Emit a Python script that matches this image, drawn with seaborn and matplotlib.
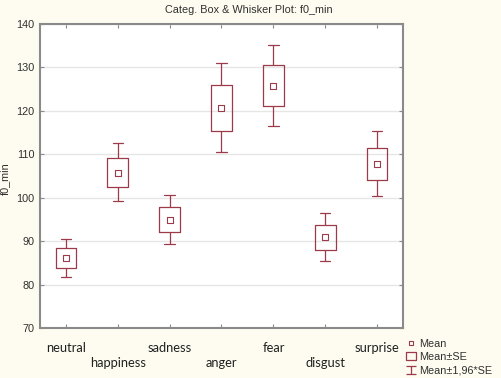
import numpy as np
import pandas as pd
import matplotlib
matplotlib.use('Agg')
import matplotlib.pyplot as plt
import seaborn as sns
from matplotlib.lines import Line2D
from matplotlib.path import Path

# values (mean, mean±SE, mean±1.96*SE)
emotions = ['neutral', 'happiness', 'sadness', 'anger', 'fear', 'disgust', 'surprise']
means = [86.1, 105.8, 94.9, 120.6, 125.8, 90.9, 107.8]
se_low = [83.8, 102.5, 92.0, 115.4, 121.2, 88.0, 104.0]
se_high = [88.4, 109.2, 97.9, 125.9, 130.5, 93.8, 111.5]
ci_low = [81.8, 99.3, 89.3, 110.5, 116.6, 85.4, 100.5]
ci_high = [90.6, 112.5, 100.7, 131.0, 135.1, 96.5, 115.3]
y_ticks = [70, 80, 90, 100, 110, 120, 130, 140]

red = '#9c3a4a'
frame = '#8a8a8a'

# five-number table so the boxplot draws box = mean±SE and whiskers = mean±1.96*SE
rows = []
for i, e in enumerate(emotions):
    for v in (ci_low[i], se_low[i], means[i], se_high[i], ci_high[i]):
        rows.append({'emotion': e, 'f0_min': v})
df = pd.DataFrame(rows)

sns.set_style('white')
plt.rcParams['font.family'] = ['Liberation Sans', 'DejaVu Sans']

fig = plt.figure(figsize=(5.02, 3.78), dpi=100, facecolor='#fefcf0')
ax = fig.add_axes([40 / 502, 1 - 328 / 378, 363 / 502, 304 / 378])
ax.set_facecolor('white')

sns.boxplot(data=df, x='emotion', y='f0_min', order=emotions, width=0.4,
            fill=False, color=red, linewidth=0.9, whis=(0, 100),
            showfliers=False, medianprops=dict(visible=False), ax=ax)
sns.scatterplot(x=emotions, y=means, marker='s', s=14, facecolor='white',
                edgecolor=red, linewidth=0.8, zorder=5, ax=ax)

ax.set_xlim(-0.5, 6.5)
ax.set_ylim(70, 140)
ax.set_yticks(y_ticks)
ax.yaxis.grid(True, color='#e6e6e6', linewidth=1)
ax.set_axisbelow(True)
for s in ax.spines.values():
    s.set_color(frame)
    s.set_linewidth(1.5)

ax.tick_params(axis='both', direction='in', length=3, color=frame, width=0.8,
               top=True, right=True, bottom=True, left=True)
ax.tick_params(axis='y', labelsize=7.8, labelcolor='#303030', pad=4)
ax.tick_params(axis='x', labelsize=9.3, labelcolor='#202020', pad=10)
for lbl in ax.get_xticklabels():
    lbl.set_family(['Lato', 'DejaVu Sans'])
for i, t in enumerate(ax.xaxis.get_major_ticks()):
    if i % 2 == 1:
        t.set_pad(21)

ax.set_xlabel('')
ax.set_ylabel('f0_min', fontsize=7.8, color='#303030')
ax.yaxis.set_label_coords(-0.083, 0.49)
fig.suptitle('Categ. Box & Whisker Plot: f0_min', x=0.496, y=0.986,
             fontsize=7.8, color='#303030')

# legend symbols
box_path = Path([(-1, -0.9), (1, -0.9), (1, 0.9), (-1, 0.9), (-1, -0.9)],
                [Path.MOVETO, Path.LINETO, Path.LINETO, Path.LINETO, Path.CLOSEPOLY])
whisk_path = Path([(-1, 0.9), (1, 0.9), (0, 0.9), (0, -0.9), (-1, -0.9), (1, -0.9)],
                  [Path.MOVETO, Path.LINETO, Path.MOVETO, Path.LINETO,
                   Path.MOVETO, Path.LINETO])
handles = [
    Line2D([], [], linestyle='', marker='s', markersize=2.6,
           markerfacecolor='white', markeredgecolor=red, markeredgewidth=0.8),
    Line2D([], [], linestyle='', marker=box_path, markersize=6.5,
           markerfacecolor='none', markeredgecolor=red, markeredgewidth=0.9),
    Line2D([], [], linestyle='', marker=whisk_path, markersize=6.5,
           markerfacecolor='none', markeredgecolor=red, markeredgewidth=0.9),
]
fig.legend(handles, ['Mean', 'Mean±SE', 'Mean±1,96*SE'], loc='upper left',
           bbox_to_anchor=(407 / 502, 1 - 339 / 378), frameon=False,
           fontsize=7.8, handlelength=0.8, handletextpad=0.35,
           labelspacing=0.3, borderpad=0, borderaxespad=0,
           labelcolor='#303030')

fig.savefig('out.png', dpi=100, facecolor=fig.get_facecolor())
